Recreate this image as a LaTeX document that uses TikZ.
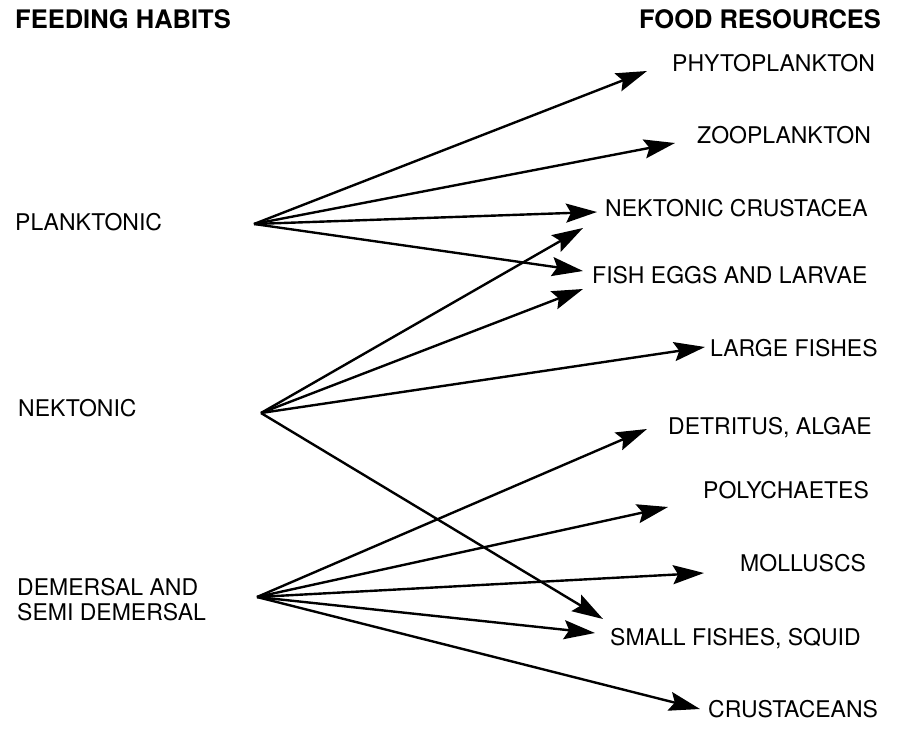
\documentclass[tikz,border=0pt]{standalone}
\usepackage{fontspec}
\setmainfont{TeX Gyre Heros}
\usetikzlibrary{arrows.meta}

\begin{document}
\begin{tikzpicture}[x=1pt,y=-1pt,
  lbl/.style={anchor=west,inner sep=0pt,font=\fontsize{23}{25}\selectfont,
              text height=16.5pt,text depth=0pt},
  head/.style={anchor=west,inner sep=0pt,font=\bfseries\fontsize{25.5}{28}\selectfont,
              text height=18pt,text depth=0pt},
  feed/.style={line width=2.4pt,-{Stealth[length=31pt,width=19pt,inset=5pt]}}]
\useasboundingbox (0,0) rectangle (912,730);

% column headings
\node[head] (hl) at (15,20) {FEEDING HABITS};
\node[head] (hr) at (639,20) {FOOD RESOURCES};

% feeding habits
\node[lbl] (plank) at (15,222) {PLANKTONIC};
\node[lbl] (nekt) at (18,408) {NEKTONIC};
\node[lbl,align=left] (dem) at (17,612.5) {DEMERSAL AND\\SEMI DEMERSAL};

% fan origins
\coordinate (pk) at (254,224);
\coordinate (nk) at (261,413);
\coordinate (dm) at (257,597);

% food resources
\node[lbl] (phyto) at (672,63) {PHYTOPLANKTON};
\node[lbl] (zoo) at (697,135) {ZOOPLANKTON};
\node[lbl] (ncr) at (605,208) {NEKTONIC CRUSTACEA};
\node[lbl] (egg) at (592,275) {FISH EGGS AND LARVAE};
\node[lbl] (lfish) at (710,348) {LARGE FISHES};
\node[lbl] (detr) at (668,426) {DETRITUS, ALGAE};
\node[lbl] (poly) at (703,490) {POLYCHAETES};
\node[lbl] (moll) at (740,563) {MOLLUSCS};
\node[lbl] (sfish) at (610,637) {SMALL FISHES, SQUID};
\node[lbl] (crus) at (708,709) {CRUSTACEANS};

% arrow tips
\coordinate (t-phyto) at (647,71);
\coordinate (t-zoo) at (675,143);
\coordinate (t-ncr1) at (597,212);
\coordinate (t-egg1) at (583,271);
\coordinate (t-ncr2) at (583,228);
\coordinate (t-egg2) at (583,289);
\coordinate (t-lfish) at (705,347);
\coordinate (t-sf1) at (603,619);
\coordinate (t-detr) at (647,429);
\coordinate (t-poly) at (668,507);
\coordinate (t-moll) at (704,573);
\coordinate (t-sf2) at (595,633);
\coordinate (t-crus) at (700,709);

% planktonic feeders
\draw[feed] (pk) -- (t-phyto);
\draw[feed] (pk) -- (t-zoo);
\draw[feed] (pk) -- (t-ncr1);
\draw[feed] (pk) -- (t-egg1);

% nektonic feeders
\draw[feed] (nk) -- (t-ncr2);
\draw[feed] (nk) -- (t-egg2);
\draw[feed] (nk) -- (t-lfish);
\draw[feed] (nk) -- (t-sf1);

% demersal feeders
\draw[feed] (dm) -- (t-detr);
\draw[feed] (dm) -- (t-poly);
\draw[feed] (dm) -- (t-moll);
\draw[feed] (dm) -- (t-sf2);
\draw[feed] (dm) -- (t-crus);
\end{tikzpicture}
\end{document}
